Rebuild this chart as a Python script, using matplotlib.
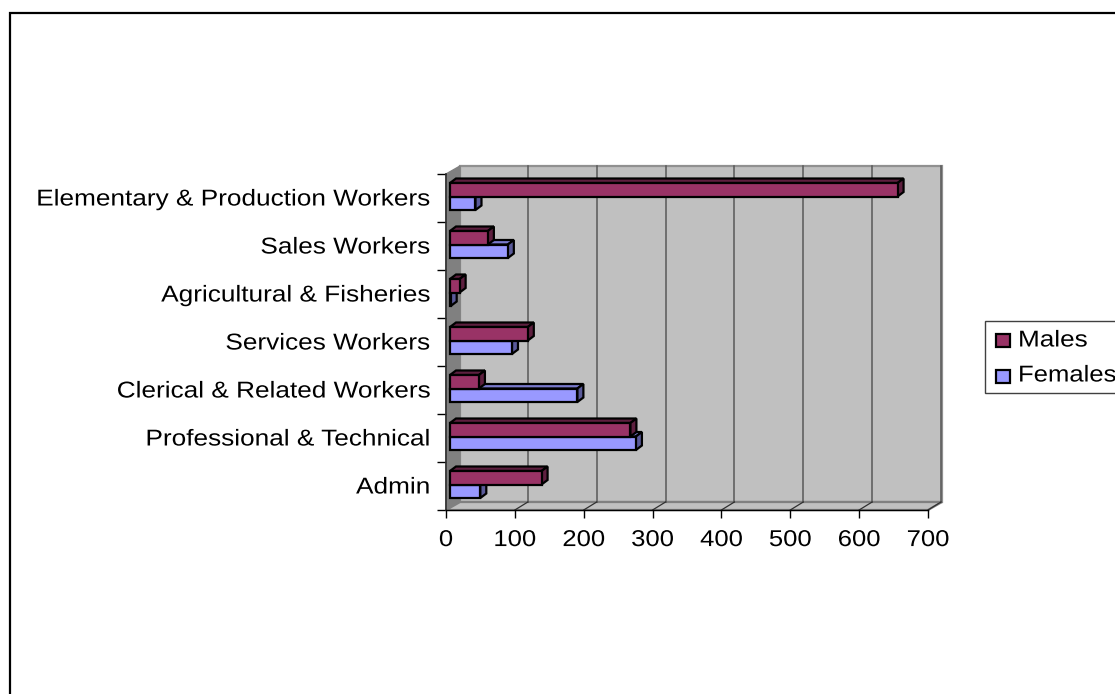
#!/usr/bin/env python3
import matplotlib
matplotlib.use('Agg')
import matplotlib.pyplot as plt
from matplotlib.patches import Polygon, Rectangle
from matplotlib.patheffects import AbstractPathEffect
from matplotlib.transforms import Affine2D

plt.rcParams['font.family'] = ['Liberation Sans', 'DejaVu Sans']

# data, bottom to top
categories = ['Admin', 'Professional & Technical', 'Clerical & Related Workers',
              'Services Workers', 'Agricultural & Fisheries', 'Sales Workers',
              'Elementary & Production Workers']
males = [133, 262, 42, 113, 14, 55, 650]
females = [44, 270, 185, 90, 1, 84, 37]
ticks = [0, 100, 200, 300, 400, 500, 600, 700]

W, H = 1115, 694
L, R, T, B = 446, 928, 174, 510   # plot front plane in pixels
xunit = (R - L) / 700.0
yunit = (B - T) / 7.0
FS = 16.5


class Wide(AbstractPathEffect):
    # the original text is stretched sideways, no font here is that wide
    def __init__(self, sx=1.15, anchor='left'):
        super().__init__()
        self.sx = sx
        self.anchor = anchor

    def draw_path(self, renderer, gc, tpath, affine, rgbFace=None):
        ext = tpath.get_extents()
        a = {'left': 0, 'right': ext.x1, 'center': (ext.x0 + ext.x1) / 2}[self.anchor]
        pre = Affine2D().translate(-a, 0).scale(self.sx, 1).translate(a, 0)
        renderer.draw_path(gc, tpath, pre + affine, rgbFace)


fig = plt.figure(figsize=(W / 100, H / 100), dpi=100)
ax = fig.add_axes([L / W, 1 - B / H, (R - L) / W, (B - T) / H])
ax.set_xlim(0, 700)
ax.set_ylim(-0.5, 6.5)
ax.patch.set_visible(False)
for s in ['top', 'right']:
    ax.spines[s].set_visible(False)
ax.spines['left'].set_color('#303030')
ax.spines['left'].set_linewidth(1.2)
ax.spines['bottom'].set_linewidth(1.0)

# depth of the box and of the bars, in data units
dx = 14 / xunit
dy = 8 / yunit
bdx = 6 / xunit
bdy = 4.5 / yunit
x0 = 4 / xunit     # bars sit a little behind the front plane
barh = 13.5 / yunit
shift = 1.5 / yunit


def box(pts, fc, ec, lw=1.0, z=1):
    ax.add_patch(Polygon(pts, closed=True, fc=fc, ec=ec, lw=lw, zorder=z, clip_on=False, joinstyle='miter'))


# walls
box([(dx, -0.5 + dy), (700 + dx, -0.5 + dy), (700 + dx, 6.5 + dy), (dx, 6.5 + dy)], '#C0C0C0', '#909090', 1.6)
box([(0, -0.5), (dx, -0.5 + dy), (dx, 6.5 + dy), (0, 6.5)], '#808080', '#808080')
box([(0, -0.5), (700, -0.5), (700 + dx, -0.5 + dy), (dx, -0.5 + dy)], '#C0C0C0', '#808080', 1.6)

# grid on back wall and floor
for t in ticks[1:]:
    ax.plot([t + dx - 1.5, t + dx - 1.5], [-0.5 + dy, 6.5 + dy], color='#585858', lw=1.1, zorder=1.5, clip_on=False)
    ax.plot([t, t + dx - 1.5], [-0.5, -0.5 + dy], color='#303030', lw=0.9, zorder=1.5, clip_on=False)


def bar3d(v, y0, front, top, side, z):
    # y0 is the lower edge of the front face
    x1 = x0 + v
    y1 = y0 + barh
    box([(x0, y1), (x0 + bdx, y1 + bdy), (x1 + bdx, y1 + bdy), (x1, y1)], top, 'black', 1.6, z)
    box([(x1, y0), (x1 + bdx, y0 + bdy), (x1 + bdx, y1 + bdy), (x1, y1)], side, 'black', 1.6, z)
    box([(x0, y0), (x1, y0), (x1, y1), (x0, y1)], front, 'black', 1.6, z)


for i in range(len(categories)):
    base = 4 + (6 - i) * 0.1
    bar3d(females[i], i - barh + shift, '#9999FF', '#7A7ACC', '#5A5A99', base)
    bar3d(males[i], i + shift, '#993366', '#5E1F3F', '#5E1F3F', base + 0.05)

ax.set_yticks([i + 0.5 for i in range(-1, 7)])
ax.set_yticklabels([])
ax.set_xticks(ticks)
ax.tick_params(axis='x', length=6, width=1, pad=7, labelsize=FS)
ax.tick_params(axis='y', length=6.5, width=1)
for lab in ax.get_xticklabels():
    lab.set_path_effects([Wide(1.12, 'center')])
for i, c in enumerate(categories):
    ax.text(-16 / xunit, i - 1 / yunit, c, ha='right', va='center', fontsize=FS, clip_on=False,
            path_effects=[Wide(1.143, 'right')])

# frame and legend both run off the right edge like the original
fax = fig.add_axes([0, 0, 1, 1], zorder=-1)
fax.set_xlim(0, W)
fax.set_ylim(H, 0)
fax.axis('off')
fax.add_patch(Rectangle((10, 13), W + 20, H + 20, fc='white', ec='black', lw=1.6))
lax = fig.add_axes([0, 0, 1, 1], zorder=5)
lax.set_xlim(0, W)
lax.set_ylim(H, 0)
lax.axis('off')
lax.patch.set_visible(False)
lax.add_patch(Rectangle((985, 321), W, 72, fc='white', ec='#404040', lw=1))
lax.add_patch(Rectangle((996, 334), 14, 13, fc='#993366', ec='black', lw=1.6))
lax.add_patch(Rectangle((996, 370), 14, 13, fc='#9999FF', ec='black', lw=1.6))
lax.text(1018, 340, 'Males', va='center', fontsize=FS, path_effects=[Wide(1.14)])
lax.text(1018, 375, 'Females', va='center', fontsize=FS, path_effects=[Wide(1.12)])

fig.savefig('out.png', dpi=100)
